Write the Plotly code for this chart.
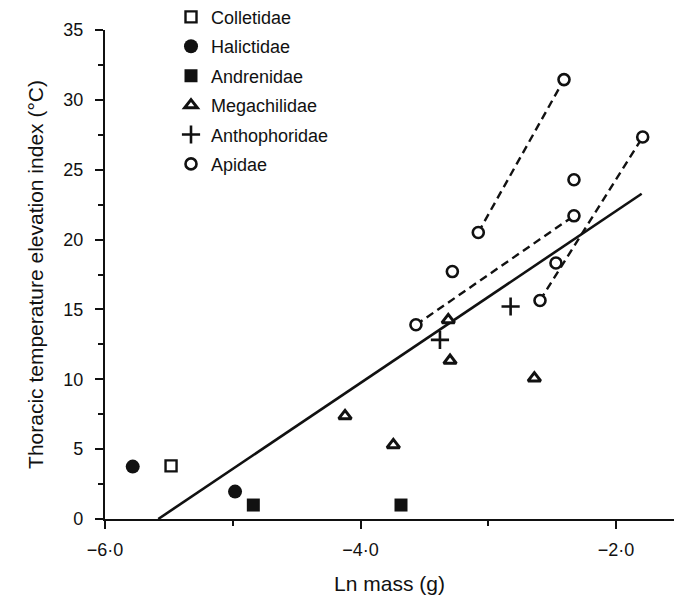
import plotly.graph_objects as go

# ---- data ----
colletidae_x = [-5.483]
colletidae_y = [3.80]

halictidae_x = [-5.783, -4.982]
halictidae_y = [3.75, 1.96]

andrenidae_x = [-4.839, -3.683]
andrenidae_y = [1.00, 1.00]

megachilidae_x = [-4.121, -3.743, -3.299, -2.639, -3.313]
megachilidae_y = [7.38, 5.30, 11.34, 10.08, 14.25]

anthophoridae_x = [-3.378, -2.825]
anthophoridae_y = [12.82, 15.21]

apidae_x = [-2.407, -1.791, -2.329, -2.329, -3.078, -3.281, -2.470, -2.595, -3.566]
apidae_y = [31.45, 27.34, 24.28, 21.70, 20.51, 17.71, 18.32, 15.64, 13.90]

# overall regression line (end points)
reg_x = [-5.583, -1.799]
reg_y = [0.0, 23.28]

# dashed lines joining Apidae species groups
dash_lines = [
    ([-3.078, -2.407], [20.51, 31.45]),
    ([-3.566, -2.329], [13.90, 21.70]),
    ([-2.595, -1.791], [15.64, 27.34]),
]

x_tickvals = [-6, -4, -2]
x_ticktext = ["\u22126\u00b70", "\u22124\u00b70", "\u22122\u00b70"]
x_minor = [-5, -3]
y_tickvals = [0, 5, 10, 15, 20, 25, 30, 35]
y_minor = [2.5, 7.5, 12.5, 17.5, 22.5, 27.5, 32.5]

INK = "#111111"
FONT = "Liberation Sans, Arial, sans-serif"

fig = go.Figure()

# lines first (beneath markers)
fig.add_trace(go.Scatter(x=reg_x, y=reg_y, mode="lines",
                         line=dict(color=INK, width=2.6), showlegend=False,
                         hoverinfo="skip"))
for dx, dy in dash_lines:
    fig.add_trace(go.Scatter(x=dx, y=dy, mode="lines",
                             line=dict(color=INK, width=2.4, dash="8px,5px"),
                             showlegend=False, hoverinfo="skip"))

def add_pts(x, y, name, symbol, size, fill, lw):
    fig.add_trace(go.Scatter(
        x=x, y=y, mode="markers", name=name, legendgroup=name,
        marker=dict(symbol=symbol, size=size, color=fill,
                    line=dict(color=INK, width=lw)),
        cliponaxis=False))

add_pts(colletidae_x, colletidae_y, "Colletidae", "square", 11, "white", 2.4)
add_pts(halictidae_x, halictidae_y, "Halictidae", "circle", 14, INK, 0)
add_pts(andrenidae_x, andrenidae_y, "Andrenidae", "square", 13, INK, 0)
add_pts(megachilidae_x, megachilidae_y, "Megachilidae", "triangle-up", 11, "white", 3)
add_pts(anthophoridae_x, anthophoridae_y, "Anthophoridae", "cross-thin", 13, INK, 2.6)
add_pts(apidae_x, apidae_y, "Apidae", "circle", 11, "white", 2.6)

fig.update_layout(
    width=676, height=602,
    margin=dict(l=105, r=2, t=30, b=83, autoexpand=False),
    paper_bgcolor="white", plot_bgcolor="white",
    font=dict(family=FONT, color=INK),
    showlegend=True,
    legend=dict(x=0.116, y=1.064, xanchor="left", yanchor="top",
                font=dict(size=18, family=FONT, color=INK),
                bgcolor="rgba(0,0,0,0)", tracegroupgap=3,
                itemsizing="trace"),
    xaxis=dict(range=[-6, -1.546], showgrid=False, zeroline=False,
               showline=True, linecolor=INK, linewidth=2.4,
               ticks="outside", ticklen=8, tickwidth=2, tickcolor=INK,
               tickvals=x_tickvals, ticktext=x_ticktext,
               tickfont=dict(size=18, family=FONT, color=INK),
               ticklabelstandoff=5,
               minor=dict(tickvals=x_minor, ticks="outside", ticklen=5,
                          tickwidth=2, tickcolor=INK),
               title=dict(text="Ln mass (g)", standoff=18,
                          font=dict(size=21, family=FONT, color=INK))),
    yaxis=dict(range=[0, 35], showgrid=False, zeroline=False,
               showline=True, linecolor=INK, linewidth=2.4,
               ticks="outside", ticklen=8, tickwidth=2, tickcolor=INK,
               tickvals=y_tickvals,
               tickfont=dict(size=18, family=FONT, color=INK),
               ticklabelstandoff=8,
               minor=dict(tickvals=y_minor, ticks="outside", ticklen=5,
                          tickwidth=2, tickcolor=INK),
               title=dict(text="Thoracic temperature elevation index (\u00b0C)",
                          standoff=14,
                          font=dict(size=21, family=FONT, color=INK))),
)

fig.write_html("out.html")
